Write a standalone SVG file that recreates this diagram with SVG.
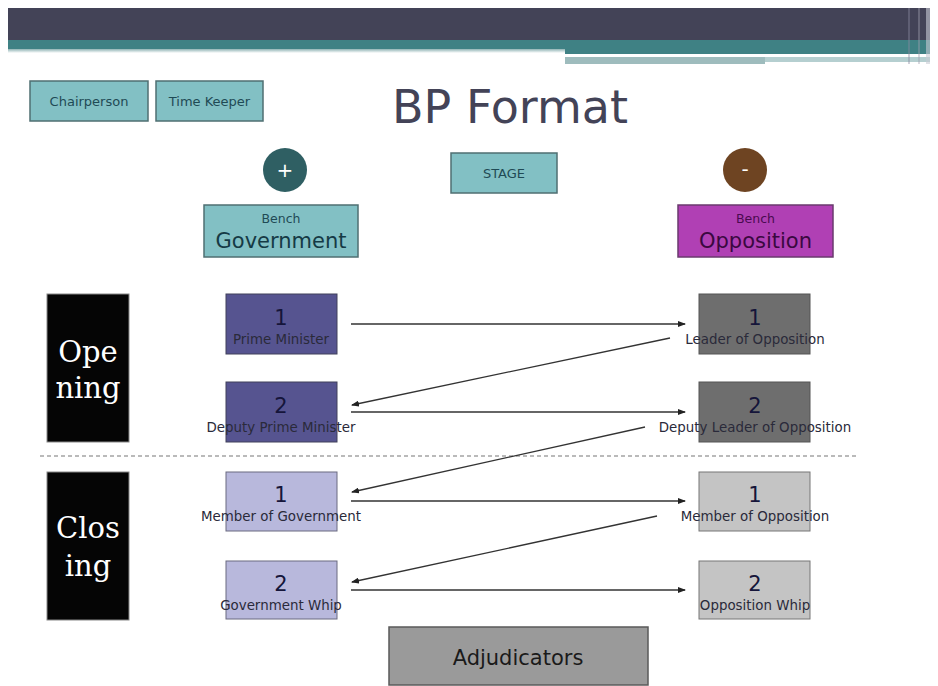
<svg xmlns="http://www.w3.org/2000/svg" width="938" height="686" viewBox="0 0 938 686">
<style>
text{font-family:"DejaVu Sans","Liberation Sans",sans-serif;}
.btn{fill:#82c0c4;stroke:#4f6f72;stroke-width:1.5;}
.btxt{font-size:13px;fill:#1f4a55;text-anchor:middle;}
.num{font-size:21px;fill:#15153a;text-anchor:middle;}
.lbl{font-size:13.4px;fill:#2a2a3a;text-anchor:middle;}
.side{fill:#050505;stroke:#888;stroke-width:1;}
.stxt{font-family:"DejaVu Serif","Liberation Serif",serif;font-size:29px;fill:#ffffff;text-anchor:middle;}
.con{stroke:#333;stroke-width:1.3;fill:none;marker-end:url(#ah);}
</style>
<defs>
<marker id="ah" markerWidth="8" markerHeight="6" refX="7" refY="3" orient="auto" markerUnits="userSpaceOnUse">
<path d="M0,0 L8,3 L0,6 z" fill="#222"/>
</marker>
<linearGradient id="fade" x1="0" y1="0" x2="0" y2="1">
<stop offset="0" stop-color="#8fb3b4"/>
<stop offset="1" stop-color="#ffffff"/>
</linearGradient>
</defs>
<rect width="938" height="686" fill="#ffffff"/>
<g id="header">
<rect x="8" y="8" width="922" height="32" fill="#434357"/>
<rect x="8" y="40" width="922" height="9" fill="#3f8184"/>
<rect x="8" y="49" width="557" height="4" fill="url(#fade)"/>
<rect x="565" y="49" width="365" height="5" fill="#3f8184"/>
<rect x="565" y="54" width="365" height="3" fill="#ffffff"/>
<rect x="565" y="57" width="200" height="7" fill="#9ebcbd"/>
<rect x="765" y="57" width="165" height="5" fill="#b5cfd0"/>
<rect x="908" y="8" width="2" height="56" fill="#8a8aa0" opacity="0.4"/>
<rect x="918" y="8" width="2" height="56" fill="#a0a0b0" opacity="0.4"/>
<rect x="926" y="8" width="4" height="56" fill="#c8ccd4" opacity="0.6"/>
</g>
<g id="title"><text x="510" y="123" font-size="46" fill="#434357" text-anchor="middle">BP Format</text></g>
<g id="chairperson"><rect class="btn" x="30" y="81" width="118" height="40"/><text class="btxt" x="89" y="106">Chairperson</text></g>
<g id="timekeeper"><rect class="btn" x="156" y="81" width="107" height="40"/><text class="btxt" x="209.5" y="106">Time Keeper</text></g>
<g id="stage"><rect class="btn" x="451" y="153" width="106" height="40"/><text class="btxt" x="504" y="178">STAGE</text></g>
<g id="plus"><circle cx="285" cy="170" r="22" fill="#2f5f63"/><text x="285" y="177" font-size="20" fill="#ffffff" text-anchor="middle">+</text></g>
<g id="minus"><circle cx="745" cy="170" r="22" fill="#6e4422"/><text x="745" y="176" font-size="20" fill="#ffffff" text-anchor="middle">-</text></g>
<g id="bench-gov"><rect class="btn" x="204" y="205" width="154" height="52"/><text x="281" y="223" font-size="12.5" fill="#1f4a55" text-anchor="middle">Bench</text><text x="281" y="248" font-size="21" fill="#153a45" text-anchor="middle">Government</text></g>
<g id="bench-opp"><rect x="678" y="205" width="155" height="52" fill="#b040b4" stroke="#6a3a6e" stroke-width="1.5"/><text x="755.5" y="223" font-size="12.5" fill="#4a0a50" text-anchor="middle">Bench</text><text x="755.5" y="248" font-size="21" fill="#3a0840" text-anchor="middle">Opposition</text></g>
<g id="opening"><rect class="side" x="47" y="294" width="82" height="148"/><text class="stxt" x="88" y="362">Ope</text><text class="stxt" x="88" y="398">ning</text></g>
<g id="closing"><rect class="side" x="47" y="472" width="82" height="148"/><text class="stxt" x="88" y="538">Clos</text><text class="stxt" x="88" y="576">ing</text></g>
<g id="divider"><line x1="40" y1="456" x2="856" y2="456" stroke="#777" stroke-width="1.2" stroke-dasharray="4,3"/></g>
<g id="pm"><rect x="226" y="294" width="111" height="60" fill="#565490" stroke="#40405a"/><text class="num" x="281" y="325">1</text><text class="lbl" x="281" y="344" fill="#1a1a4a">Prime Minister</text></g>
<g id="dpm"><rect x="226" y="382" width="111" height="60" fill="#565490" stroke="#40405a"/><text class="num" x="281" y="413">2</text><text class="lbl" x="281" y="432">Deputy Prime Minister</text></g>
<g id="mg"><rect x="226" y="472" width="111" height="59" fill="#b8b8dc" stroke="#6a6a80"/><text class="num" x="281" y="502">1</text><text class="lbl" x="281" y="521">Member of Government</text></g>
<g id="gw"><rect x="226" y="561" width="111" height="58" fill="#b8b8dc" stroke="#6a6a80"/><text class="num" x="281" y="591">2</text><text class="lbl" x="281" y="610">Government Whip</text></g>
<g id="lo"><rect x="699" y="294" width="111" height="60" fill="#6e6e6e" stroke="#555"/><text class="num" x="755" y="325">1</text><text class="lbl" x="755" y="344">Leader of Opposition</text></g>
<g id="dlo"><rect x="699" y="382" width="111" height="60" fill="#6e6e6e" stroke="#555"/><text class="num" x="755" y="413">2</text><text class="lbl" x="755" y="432">Deputy Leader of Opposition</text></g>
<g id="mo"><rect x="699" y="472" width="111" height="59" fill="#c4c4c4" stroke="#777"/><text class="num" x="755" y="502">1</text><text class="lbl" x="755" y="521">Member of Opposition</text></g>
<g id="ow"><rect x="699" y="561" width="111" height="58" fill="#c4c4c4" stroke="#777"/><text class="num" x="755" y="591">2</text><text class="lbl" x="755" y="610">Opposition Whip</text></g>
<g id="adjudicators"><rect x="389" y="627" width="259" height="58" fill="#9a9a9a" stroke="#5a5a5a" stroke-width="1.5"/><text x="518" y="665" font-size="21" fill="#1a1a1a" text-anchor="middle">Adjudicators</text></g>
<g id="connectors">
<line class="con" x1="351" y1="324" x2="685" y2="324"/>
<line class="con" x1="670" y1="338" x2="352" y2="405"/>
<line class="con" x1="351" y1="412" x2="685" y2="412"/>
<line class="con" x1="645" y1="427" x2="352" y2="492"/>
<line class="con" x1="351" y1="501" x2="685" y2="501"/>
<line class="con" x1="657" y1="516" x2="352" y2="582"/>
<line class="con" x1="351" y1="590" x2="685" y2="590"/>
</g>
</svg>
